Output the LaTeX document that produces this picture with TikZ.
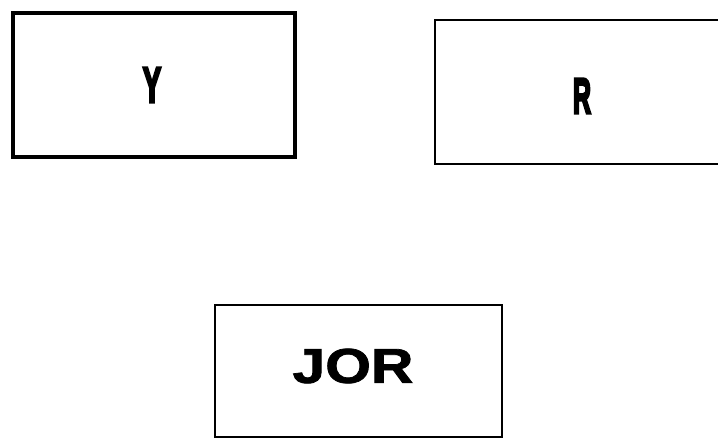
\documentclass[tikz,border=0pt]{standalone}
\usepackage{fontspec}
\setmainfont{Liberation Sans}
\newfontfamily\heavyfont[UprightFeatures={FakeBold=6},BoldFeatures={FakeBold=6}]{Liberation Sans}
\newfontfamily\semiheavyfont[UprightFeatures={FakeBold=1.5},BoldFeatures={FakeBold=1.5}]{Liberation Sans}
\begin{document}
\begin{tikzpicture}[x=1pt,y=-1pt]
\useasboundingbox (0,0) rectangle (718,441);
\tikzset{
  box/.style={draw,line width=2.8pt,inner sep=0pt},
  lab/.style={inner sep=0pt,font=\fontsize{50}{50}\heavyfont\bfseries}
}
\node[box,line width=3.3pt,minimum width=282pt,minimum height=144pt] (ybox) at (154,85) {};
\node[box,minimum width=325pt,minimum height=144pt] (rbox) at (597.5,92) {};
\node[box,line width=2.2pt,minimum width=287pt,minimum height=132pt] (jbox) at (358.5,371) {};
\node[lab] (ylab) at (152,85) {\scalebox{0.55}[1]{Y}};
\node[lab] (rlab) at (582,96) {\scalebox{0.5}[1]{R}};
\node[lab,font=\fontsize{49}{49}\semiheavyfont\bfseries] (jlab) at (353,366) {\scalebox{1.2}[1]{JOR}};
\end{tikzpicture}
\end{document}
